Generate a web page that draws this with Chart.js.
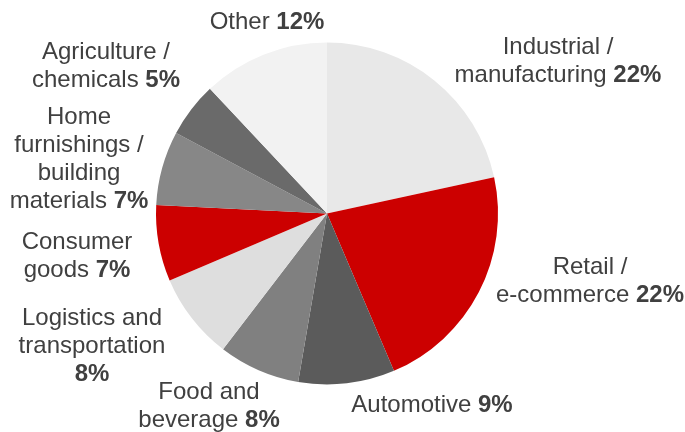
<!DOCTYPE html>
<html>
<head>
<meta charset="utf-8">
<script src="https://cdn.jsdelivr.net/npm/chart.js@4/dist/chart.umd.min.js"></script>
<style>
  html, body { margin: 0; padding: 0; background: #ffffff; }
  #wrap { width: 685px; height: 432px; position: relative; }
</style>
</head>
<body>
<div id="wrap"><canvas id="c" width="685" height="432"></canvas></div>
<script>
// ---- data ----
const categories = [
  'Industrial / manufacturing',
  'Retail / e-commerce',
  'Automotive',
  'Food and beverage',
  'Logistics and transportation',
  'Consumer goods',
  'Home furnishings / building materials',
  'Agriculture / chemicals',
  'Other'
];
// slice sizes (labels show rounded values)
const shares = [21.6, 22.0, 9.1, 7.7, 8.2, 7.2, 7.0, 5.2, 12.0];
const percentLabels = ['22%', '22%', '9%', '8%', '8%', '7%', '7%', '5%', '12%'];

// ---- styling / layout (not data) ----
const sliceColors = ['#e8e8e8', '#cc0000', '#5b5b5b', '#808080', '#dedede', '#cc0000', '#878787', '#6a6a6a', '#f2f2f2'];
// label text broken into lines; percent appended to last line ('' = percent on its own line)
const labelLines = [
  ['Industrial /', 'manufacturing'],
  ['Retail /', 'e-commerce'],
  ['Automotive'],
  ['Food and', 'beverage'],
  ['Logistics and', 'transportation', ''],
  ['Consumer', 'goods'],
  ['Home', 'furnishings /', 'building', 'materials'],
  ['Agriculture /', 'chemicals'],
  ['Other']
];
// label center x and first-line center y
const labelAnchor = [
  [558, 47], [590, 267], [432, 405], [209, 392], [92, 318],
  [77, 242], [79, 117], [106, 52], [267, 22]
];
const lineHeight = 28;
const fontPx = 24;
const textColor = '#404040';
const fontFamily = '"Liberation Sans", Arial, Helvetica, sans-serif';

const labelPlugin = {
  id: 'outLabels',
  afterDraw(chart) {
    const ctx = chart.ctx;
    ctx.save();
    ctx.fillStyle = textColor;
    ctx.textBaseline = 'middle';
    ctx.textAlign = 'left';
    labelLines.forEach((lines, i) => {
      const [cx, y0] = labelAnchor[i];
      lines.forEach((ln, j) => {
        const y = y0 + j * lineHeight;
        const isLast = j === lines.length - 1;
        const normalPart = isLast && ln !== '' ? ln + ' ' : ln;
        const boldPart = isLast ? percentLabels[i] : '';
        ctx.font = `${fontPx}px ${fontFamily}`;
        const w1 = ctx.measureText(normalPart).width;
        ctx.font = `bold ${fontPx}px ${fontFamily}`;
        const w2 = boldPart ? ctx.measureText(boldPart).width : 0;
        let x = cx - (w1 + w2) / 2;
        ctx.font = `${fontPx}px ${fontFamily}`;
        ctx.fillText(normalPart, x, y);
        if (boldPart) {
          ctx.font = `bold ${fontPx}px ${fontFamily}`;
          ctx.fillText(boldPart, x + w1, y);
        }
      });
    });
    ctx.restore();
  }
};

new Chart(document.getElementById('c'), {
  type: 'pie',
  data: {
    labels: categories,
    datasets: [{
      data: shares,
      backgroundColor: sliceColors,
      borderWidth: 0
    }]
  },
  options: {
    responsive: false,
    animation: false,
    layout: { padding: { left: 156, right: 187, top: 42.5, bottom: 47.5 } },
    plugins: { legend: { display: false }, tooltip: { enabled: false } }
  },
  plugins: [labelPlugin]
});
</script>
</body>
</html>
